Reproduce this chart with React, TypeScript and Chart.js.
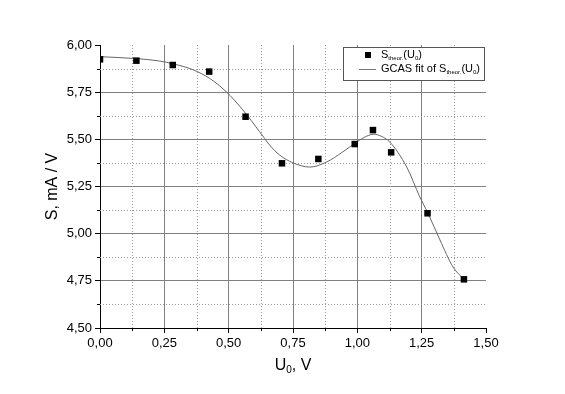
import React, { useEffect, useRef } from "react";
import { Chart, registerables } from "chart.js";

Chart.register(...registerables);

// Measured points S_theor(U0)
const uPoints = [0, 0.1414, 0.2828, 0.4243, 0.5657, 0.7071, 0.8485, 0.9899, 1.0607, 1.1314, 1.2728, 1.4142];
const sPoints = [5.924, 5.917, 5.894, 5.859, 5.62, 5.373, 5.396, 5.475, 5.549, 5.431, 5.108, 4.758];

// GCAS fit curve
const fitU = [0, 0.141, 0.231, 0.285, 0.361, 0.426, 0.49, 0.555, 0.62, 0.659, 0.698, 0.749, 0.815, 0.881, 0.943, 0.998, 1.035, 1.064, 1.095, 1.126, 1.192, 1.243, 1.274, 1.321, 1.372, 1.414];
const fitS = [5.938, 5.928, 5.915, 5.9, 5.869, 5.823, 5.753, 5.656, 5.541, 5.47, 5.417, 5.376, 5.353, 5.38, 5.433, 5.486, 5.516, 5.527, 5.515, 5.486, 5.353, 5.194, 5.11, 4.967, 4.823, 4.758];

const xMin = 0, xMax = 1.5, xStep = 0.25;
const yMin = 4.5, yMax = 6.0, yStep = 0.25;

const FONT = "'Liberation Sans', Arial, sans-serif";
const fmt = (v: number) => v.toFixed(2).replace(".", ",");

function drawRich(ctx: CanvasRenderingContext2D, parts: { t: string; sub?: boolean }[], x: number, y: number, size: number, subSize: number, subDrop: number) {
  let cx = x;
  for (const p of parts) {
    ctx.font = `${p.sub ? subSize : size}px ${FONT}`;
    ctx.fillText(p.t, cx, p.sub ? y + subDrop : y);
    cx += ctx.measureText(p.t).width;
  }
  return cx - x;
}
function measureRich(ctx: CanvasRenderingContext2D, parts: { t: string; sub?: boolean }[], size: number, subSize: number) {
  let w = 0;
  for (const p of parts) {
    ctx.font = `${p.sub ? subSize : size}px ${FONT}`;
    w += ctx.measureText(p.t).width;
  }
  return w;
}

const minorGrid = {
  id: "minorGrid",
  beforeDatasetsDraw(chart: any) {
    const ctx = chart.ctx as CanvasRenderingContext2D;
    const { left, right, top, bottom } = chart.chartArea;
    const xs = chart.scales.x, ys = chart.scales.y;
    ctx.save();
    ctx.strokeStyle = "#9a9a9a";
    ctx.lineWidth = 1;
    ctx.setLineDash([1, 2]);
    const xt = xs.ticks.map((t: any) => t.value);
    for (let i = 0; i < xt.length - 1; i++) {
      const px = Math.round(xs.getPixelForValue((xt[i] + xt[i + 1]) / 2)) + 0.5;
      ctx.beginPath(); ctx.moveTo(px, top); ctx.lineTo(px, bottom); ctx.stroke();
    }
    const yt = ys.ticks.map((t: any) => t.value);
    for (let i = 0; i < yt.length - 1; i++) {
      const py = Math.round(ys.getPixelForValue((yt[i] + yt[i + 1]) / 2)) + 0.5;
      ctx.beginPath(); ctx.moveTo(left, py); ctx.lineTo(right, py); ctx.stroke();
    }
    // minor tick marks
    ctx.setLineDash([]);
    ctx.strokeStyle = "#000";
    for (let i = 0; i < xt.length - 1; i++) {
      const px = Math.round(xs.getPixelForValue((xt[i] + xt[i + 1]) / 2)) + 0.5;
      ctx.beginPath(); ctx.moveTo(px, bottom); ctx.lineTo(px, bottom + 3); ctx.stroke();
    }
    for (let i = 0; i < yt.length - 1; i++) {
      const py = Math.round(ys.getPixelForValue((yt[i] + yt[i + 1]) / 2)) + 0.5;
      ctx.beginPath(); ctx.moveTo(left - 3, py); ctx.lineTo(left, py); ctx.stroke();
    }
    ctx.restore();
  },
};

const decorations = {
  id: "decorations",
  afterDraw(chart: any) {
    const ctx = chart.ctx as CanvasRenderingContext2D;
    const { left, right, top, bottom } = chart.chartArea;
    ctx.save();
    ctx.fillStyle = "#000";
    ctx.textBaseline = "alphabetic";
    ctx.textAlign = "left";
    // Y title
    ctx.save();
    ctx.translate(57, (top + bottom) / 2);
    ctx.rotate(-Math.PI / 2);
    ctx.textAlign = "center";
    ctx.font = `16px ${FONT}`;
    ctx.fillText("S, mA / V", 0, 0);
    ctx.restore();
    // X title
    const xt = [{ t: "U" }, { t: "0", sub: true }, { t: ", V" }];
    const w = measureRich(ctx, xt, 16, 10);
    drawRich(ctx, xt, (left + right) / 2 - w / 2, 370, 16, 10, 3);

    // Legend
    const bx = 343.5, by = 47.5, bw = 141, bh = 33;
    ctx.fillStyle = "#fff";
    ctx.fillRect(bx, by, bw, bh);
    ctx.strokeStyle = "#555";
    ctx.lineWidth = 1;
    ctx.strokeRect(bx, by, bw, bh);
    ctx.fillStyle = "#000";
    ctx.fillRect(365, 52, 6, 6);
    drawRich(ctx, [{ t: "S" }, { t: "theor.", sub: true }, { t: "(U" }, { t: "0", sub: true }, { t: ")" }], 381, 58, 11, 6, 2);
    ctx.strokeStyle = "#777";
    ctx.beginPath(); ctx.moveTo(359, 69.5); ctx.lineTo(376, 69.5); ctx.stroke();
    drawRich(ctx, [{ t: "GCAS fit of S" }, { t: "theor.", sub: true }, { t: "(U" }, { t: "0", sub: true }, { t: ")" }], 381, 72, 11, 6, 2);
    ctx.restore();
  },
};

export default function App() {
  const ref = useRef<HTMLCanvasElement>(null);
  useEffect(() => {
    if (!ref.current) return;
    const chart = new Chart(ref.current, {
      type: "scatter",
      data: {
        datasets: [
          {
            label: "S_theor(U0)",
            data: uPoints.map((u, i) => ({ x: u, y: sPoints[i] })),
            pointStyle: "rect",
            pointRadius: 4.6,
            pointBackgroundColor: "#000",
            pointBorderWidth: 0,
            showLine: false,
          },
          {
            label: "GCAS fit of S_theor(U0)",
            data: fitU.map((u, i) => ({ x: u, y: fitS[i] })),
            showLine: true,
            pointRadius: 0,
            borderColor: "#666",
            borderWidth: 1,
            cubicInterpolationMode: "monotone",
            fill: false,
          } as any,
        ],
      },
      options: {
        animation: false,
        responsive: false,
        devicePixelRatio: 1,
        layout: { padding: { top: 45, right: 79, left: 0, bottom: 0 } },
        plugins: { legend: { display: false }, tooltip: { enabled: false }, title: { display: false } },
        scales: {
          x: {
            type: "linear",
            min: xMin,
            max: xMax,
            afterFit: (s: any) => { s.height = 66; },
            ticks: {
              stepSize: xStep,
              color: "#000",
              font: { family: FONT, size: 13 },
              padding: 3,
              maxRotation: 0,
              autoSkip: false,
              callback: (v: any) => fmt(Number(v)),
            },
            grid: {
              color: (c: any) => (c.tick && (c.tick.value === xMax || c.tick.value === xMin) ? "rgba(0,0,0,0)" : "#808080"),
              lineWidth: 1,
              tickLength: 5,
              tickColor: "#000",
            },
            border: { color: "#000", width: 1 },
          },
          y: {
            type: "linear",
            min: yMin,
            max: yMax,
            afterFit: (s: any) => { s.width = 100; },
            ticks: {
              stepSize: yStep,
              color: "#000",
              font: { family: FONT, size: 13 },
              padding: 3,
              autoSkip: false,
              callback: (v: any) => fmt(Number(v)),
            },
            grid: {
              color: (c: any) => (c.tick && (c.tick.value === yMax || c.tick.value === yMin) ? "rgba(0,0,0,0)" : "#808080"),
              lineWidth: 1,
              tickLength: 5,
              tickColor: "#000",
            },
            border: { color: "#000", width: 1 },
          },
        },
      },
      plugins: [minorGrid, decorations],
    });
    return () => chart.destroy();
  }, []);
  return (
    <div style={{ position: "fixed", left: 0, top: 0, width: 565, height: 394, background: "#fff" }}>
      <canvas ref={ref} width={565} height={394} style={{ display: "block" }} />
    </div>
  );
}
